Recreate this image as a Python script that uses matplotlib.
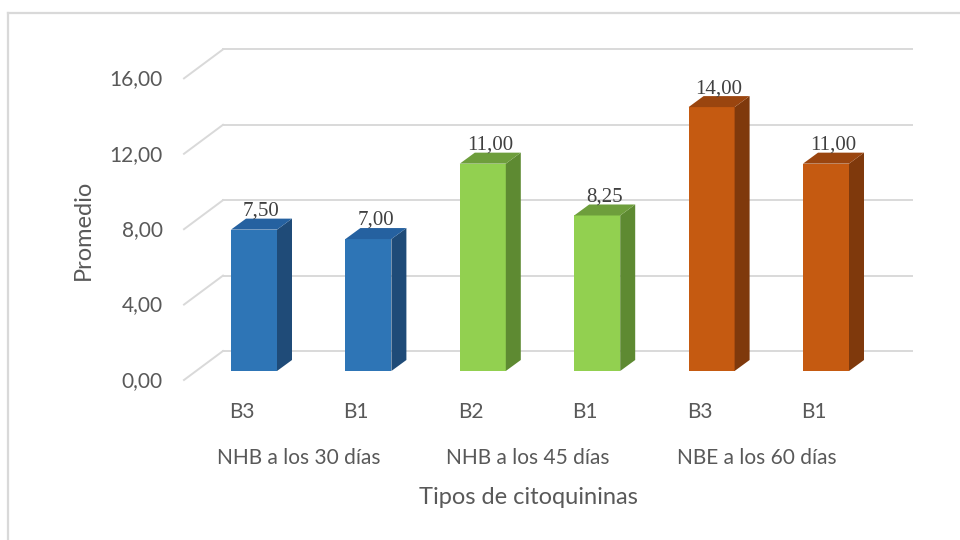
import matplotlib
matplotlib.use("Agg")
import matplotlib.pyplot as plt
from matplotlib.patches import Polygon, Rectangle
from matplotlib.lines import Line2D

# ---- data ----
groups = ["NHB a los 30 días", "NHB a los 45 días", "NBE a los 60 días"]
subcats = ["B3", "B1", "B2", "B1", "B3", "B1"]
values = [7.50, 7.00, 11.00, 8.25, 14.00, 11.00]
group_of_bar = [0, 0, 1, 1, 2, 2]
y_ticks = [0, 4, 8, 12, 16]
y_tick_labels = ["0,00", "4,00", "8,00", "12,00", "16,00"]
x_title = "Tipos de citoquininas"
y_title = "Promedio"

# colours per group: front, side, top
front_cols = ["#2E75B6", "#70AD47", "#C55A11"]
front_cols = ["#2E75B6", "#92D050", "#C55A11"]
side_cols = ["#1F4B78", "#5E8A32", "#7F390C"]
top_cols = ["#2561A0", "#6E9E3C", "#9A450F"]
text_col = "#595959"
grid_col = "#D9D9D9"

# ---- figure: one axes spanning the canvas, data units = (category, value) on the bar plane ----
fig = plt.figure(figsize=(9.6, 5.4), dpi=100)
ax = fig.add_axes([0, 0, 1, 1])
px_per_cat = 114.4
px_per_val = 18.85
x0_px, y0_px = 254.0, 371.0          # centre of first bar / value 0 on the bar plane
ax.set_xlim(-x0_px / px_per_cat, (960 - x0_px) / px_per_cat)
ax.set_ylim((y0_px - 540) / px_per_val, y0_px / px_per_val)
ax.axis("off")

# oblique depth vectors (data units)
floor_dx, floor_dy = 39 / px_per_cat, 29 / px_per_val        # front edge -> back wall
back_frac = 0.69                                               # bar plane position in depth
back_dx, back_dy = floor_dx * back_frac, floor_dy * back_frac  # bar plane -> back wall
frontx, fronty = -floor_dx * (1 - back_frac), -floor_dy * (1 - back_frac)
bar_dx, bar_dy = 15 / px_per_cat, 11 / px_per_val              # bar depth
half_w = 23 / px_per_cat
x_left_front = (184 - x0_px) / px_per_cat - frontx   # bar-plane x of floor left corner
x_right_back = (912 - x0_px) / px_per_cat

# outer chart frame
ax.add_line(Line2D([(8 - x0_px) / px_per_cat] * 2,
                   [(y0_px - 13) / px_per_val, (y0_px - 545) / px_per_val],
                   color=grid_col, lw=1.6))
ax.add_line(Line2D([(8 - x0_px) / px_per_cat, (965 - x0_px) / px_per_cat],
                   [(y0_px - 13) / px_per_val] * 2, color=grid_col, lw=1.6))

# gridlines: left side-wall diagonals and back-wall horizontals
for v, lab in zip(y_ticks, y_tick_labels):
    fx, fy = x_left_front + frontx, v + fy if False else v + fronty
    bx, by = x_left_front + back_dx, v + back_dy
    ax.add_line(Line2D([fx, bx], [fy, by], color=grid_col, lw=1.4, zorder=1))
    ax.add_line(Line2D([bx, x_right_back], [by, by], color=grid_col, lw=1.4, zorder=1))
    ax.text(fx - 21 / px_per_cat, fy - 0.05, lab, ha="right", va="center",
            fontsize=15, color=text_col, family="Lato")

# bars
for i, (v, g) in enumerate(zip(values, group_of_bar)):
    xl, xr = i - half_w, i + half_w
    ax.add_patch(Rectangle((xl, 0), xr - xl, v, facecolor=front_cols[g],
                           edgecolor="none", zorder=3))
    ax.add_patch(Polygon([(xr, 0), (xr + bar_dx, bar_dy), (xr + bar_dx, v + bar_dy), (xr, v)],
                         closed=True, facecolor=side_cols[g], edgecolor="none", zorder=3))
    ax.add_patch(Polygon([(xl, v), (xr, v), (xr + bar_dx, v + bar_dy), (xl + bar_dx, v + bar_dy)],
                         closed=True, facecolor=top_cols[g], edgecolor="none", zorder=3))
    ax.text(i + bar_dx / 2, v + bar_dy + 0.16, f"{v:.2f}".replace(".", ","),
            ha="center", va="baseline", fontsize=15, color="#404040",
            family="Liberation Serif", zorder=4)

# category labels
for i, lab in enumerate(subcats):
    ax.text(i + frontx, (y0_px - 412) / px_per_val, lab, ha="center", va="center",
            fontsize=15, color=text_col, family="Lato")
for k, lab in enumerate(groups):
    xc = (2 * k + 2 * k + 1) / 2 + frontx
    ax.text(xc, (y0_px - 458) / px_per_val, lab, ha="center", va="center",
            fontsize=15, color=text_col, family="Lato")

# axis titles
ax.text((528 - x0_px) / px_per_cat, (y0_px - 497) / px_per_val, x_title,
        ha="center", va="center", fontsize=17, color=text_col, family="Lato")
ax.text((83 - x0_px) / px_per_cat, (y0_px - 230) / px_per_val, y_title,
        ha="center", va="center", rotation=90, fontsize=17, color=text_col, family="Lato")

fig.savefig("out.png", dpi=100, facecolor="white")
